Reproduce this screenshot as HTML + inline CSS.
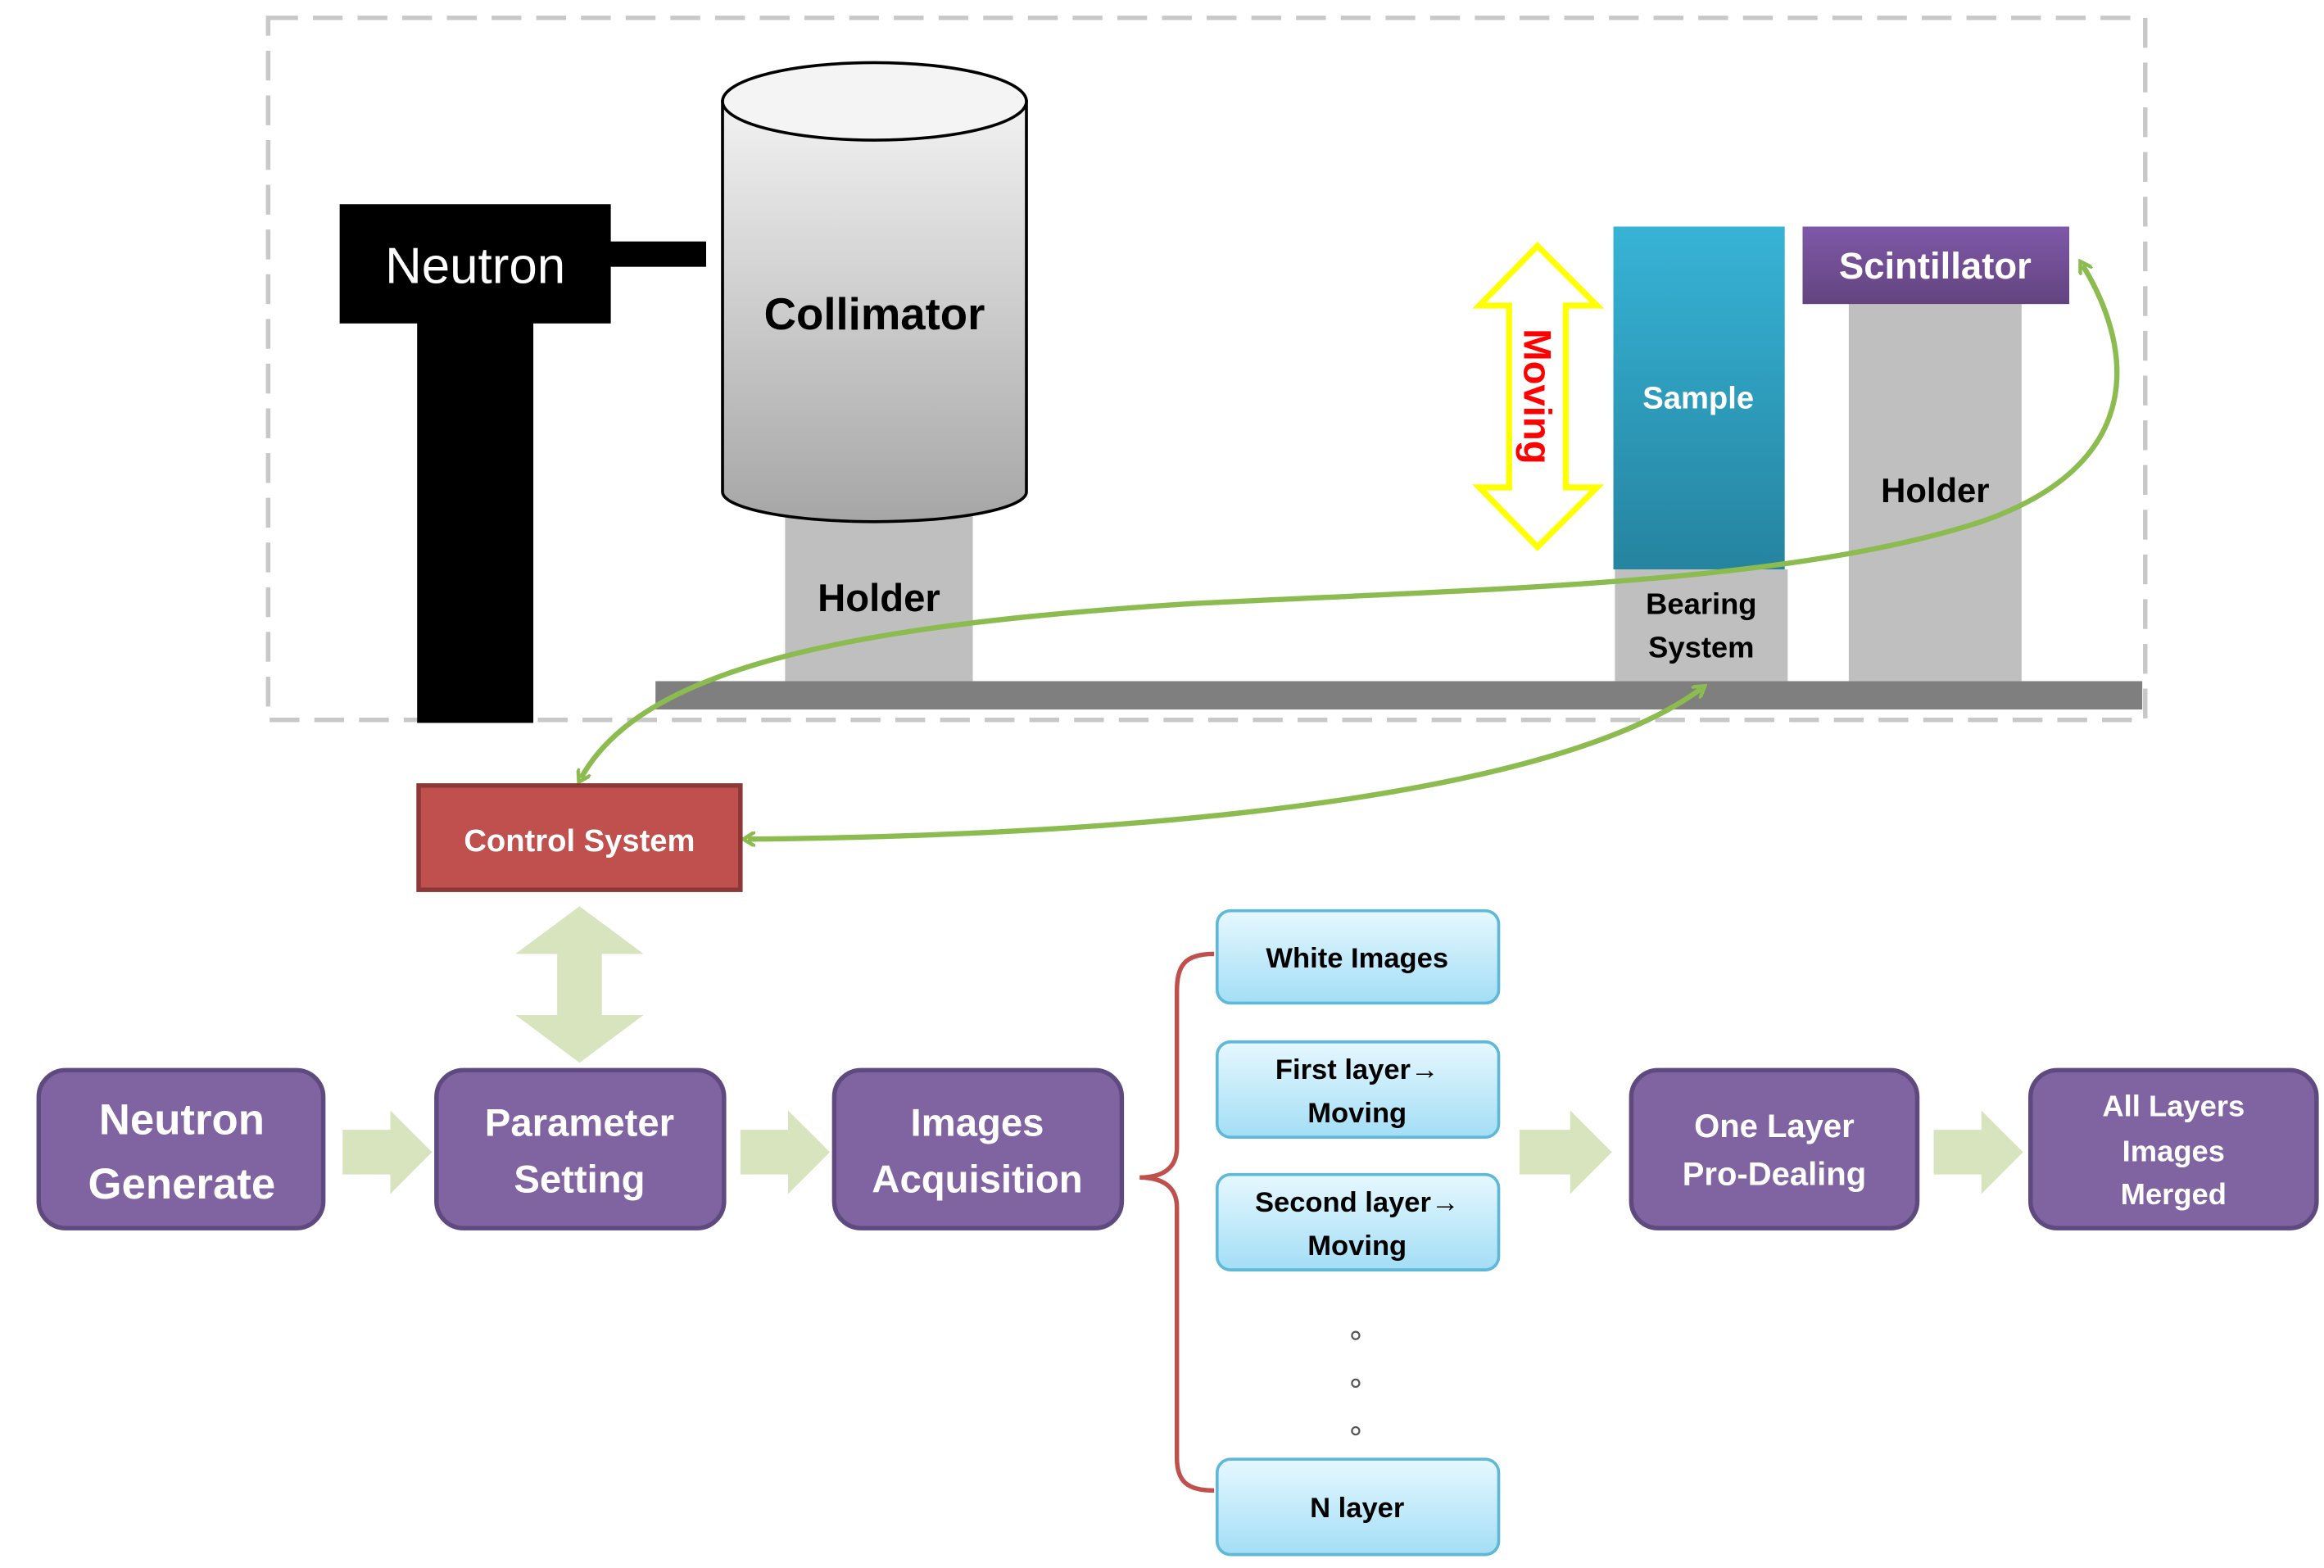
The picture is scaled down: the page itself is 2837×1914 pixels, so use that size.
<!DOCTYPE html>
<html><head><meta charset="utf-8"><style>html,body{margin:0;padding:0;background:#fff}svg{display:block}</style></head>
<body>
<svg width="2837" height="1914" viewBox="0 0 1560 1052" preserveAspectRatio="none" xmlns="http://www.w3.org/2000/svg" font-family="Liberation Sans, sans-serif">
<defs>
<linearGradient id="col" x1="0" y1="0" x2="0" y2="1"><stop offset="0" stop-color="#f2f2f2"/><stop offset="1" stop-color="#a6a6a6"/></linearGradient>
<linearGradient id="smp" x1="0" y1="0" x2="0" y2="1"><stop offset="0" stop-color="#37b3d6"/><stop offset="1" stop-color="#2584a0"/></linearGradient>
<linearGradient id="scn" x1="0" y1="0" x2="0" y2="1"><stop offset="0" stop-color="#7f58a8"/><stop offset="1" stop-color="#63447f"/></linearGradient>
<linearGradient id="lb" x1="0" y1="0" x2="0" y2="1"><stop offset="0" stop-color="#e6f8ff"/><stop offset="1" stop-color="#a3def5"/></linearGradient>
<marker id="ah" markerWidth="10" markerHeight="10" refX="5" refY="5" orient="auto-start-reverse" markerUnits="userSpaceOnUse" viewBox="0 0 10 10"><path d="M0,0 L8,5 L0,10" fill="none" stroke="#8cbc4f" stroke-width="2.5"/></marker>
</defs>
<rect x="180" y="12" width="1260" height="471" fill="none" stroke="#c8c8c8" stroke-width="3" stroke-dasharray="20 10"/>
<rect x="228" y="137" width="182" height="80" fill="#000"/>
<rect x="280" y="215" width="78" height="270" fill="#000"/>
<rect x="408" y="162" width="66" height="17" fill="#000"/>
<text x="319" y="190" fill="#fff" font-size="34" text-anchor="middle">Neutron</text>
<rect x="527" y="340" width="126" height="117" fill="#bfbfbf"/>
<path d="M485,68 L485,330 A102,20 0 0 0 689,330 L689,68 Z" fill="url(#col)" stroke="#000" stroke-width="2"/>
<ellipse cx="587" cy="68" rx="102" ry="26" fill="#f4f4f4" stroke="#000" stroke-width="2"/>
<text x="587" y="221" font-size="30" font-weight="bold" text-anchor="middle">Collimator</text>
<text x="590" y="410" font-size="26" font-weight="bold" text-anchor="middle">Holder</text>
<rect x="440" y="457" width="998" height="19" fill="#7f7f7f"/>
<path d="M1032,165 L1072,205 L1051,205 L1051,327 L1072,327 L1032,367 L993,327 L1013,327 L1013,205 L993,205 Z" fill="#fff" stroke="#ffff00" stroke-width="4"/>
<text x="1032" y="266" fill="#ff0000" font-size="26" font-weight="bold" text-anchor="middle" transform="rotate(90 1032 266)" dy="9">Moving</text>
<rect x="1084" y="382" width="116" height="75" fill="#bfbfbf"/>
<rect x="1083" y="152" width="115" height="230" fill="url(#smp)"/>
<text x="1140" y="274" fill="#fff" font-size="21" font-weight="bold" text-anchor="middle">Sample</text>
<text x="1142" y="412" font-size="20" font-weight="bold" text-anchor="middle">Bearing</text>
<text x="1142" y="441" font-size="20" font-weight="bold" text-anchor="middle">System</text>
<rect x="1241" y="204" width="116" height="253" fill="#bfbfbf"/>
<rect x="1210" y="152" width="179" height="52" fill="url(#scn)"/>
<text x="1299" y="187" fill="#fff" font-size="25" font-weight="bold" text-anchor="middle">Scintillator</text>
<text x="1299" y="337" font-size="23" font-weight="bold" text-anchor="middle">Holder</text>
<path d="M390,522 C430,450 560,420 800,405 C1000,395 1200,392 1330,350 C1445,310 1430,230 1398,178" fill="none" stroke="#8cbc4f" stroke-width="3.5" marker-start="url(#ah)" marker-end="url(#ah)"/>
<path d="M502,563 C800,560 1050,530 1142,462" fill="none" stroke="#8cbc4f" stroke-width="3.5" marker-start="url(#ah)" marker-end="url(#ah)"/>
<rect x="281" y="527" width="216" height="70" fill="#c0504d" stroke="#8c3836" stroke-width="3"/>
<text x="389" y="571" fill="#fff" font-size="21" font-weight="bold" text-anchor="middle">Control System</text>
<path d="M389,608 L432,640 L404,640 L404,681 L432,681 L389,713 L346,681 L374,681 L374,640 L346,640 Z" fill="#d7e4bd"/>
<g fill="#8063a1" stroke="#5f4a80" stroke-width="3">
<rect x="26" y="718" width="191" height="106" rx="18"/>
<rect x="293" y="718" width="193" height="106" rx="18"/>
<rect x="560" y="718" width="193" height="106" rx="18"/>
<rect x="1095" y="718" width="192" height="106" rx="18"/>
<rect x="1363" y="718" width="192" height="106" rx="18"/>
</g>
<g fill="#fff" font-weight="bold" text-anchor="middle">
<text x="122" y="761" font-size="29">Neutron</text><text x="122" y="804" font-size="29">Generate</text>
<text x="389" y="762" font-size="26">Parameter</text><text x="389" y="800" font-size="26">Setting</text>
<text x="656" y="762" font-size="26">Images</text><text x="656" y="800" font-size="26">Acquisition</text>
<text x="1191" y="763" font-size="22">One Layer</text><text x="1191" y="795" font-size="22">Pro-Dealing</text>
<text x="1459" y="749" font-size="20">All Layers</text><text x="1459" y="779" font-size="20">Images</text><text x="1459" y="808" font-size="20">Merged</text>
</g>
<g fill="#d7e4bd">
<path d="M230,758 L262,758 L262,745 L290,773 L262,801 L262,788 L230,788 Z"/>
<path d="M497,758 L529,758 L529,745 L557,773 L529,801 L529,788 L497,788 Z"/>
<path d="M1020,758 L1054,758 L1054,745 L1082,773 L1054,801 L1054,788 L1020,788 Z"/>
<path d="M1298,758 L1330,758 L1330,745 L1358,773 L1330,801 L1330,788 L1298,788 Z"/>
</g>
<path d="M815,640 C795,640 790,648 790,665 L790,770 C790,784 780,790 765,790 C780,790 790,796 790,810 L790,978 C790,994 797,1000 815,1000" fill="none" stroke="#c0504d" stroke-width="3"/>
<g fill="url(#lb)" stroke="#5fb8d8" stroke-width="2">
<rect x="817" y="611" width="189" height="62" rx="9"/>
<rect x="817" y="699" width="189" height="64" rx="9"/>
<rect x="817" y="788" width="189" height="64" rx="9"/>
<rect x="817" y="979" width="189" height="64" rx="9"/>
</g>
<g font-size="19" font-weight="bold" text-anchor="middle">
<text x="911" y="649">White Images</text>
<text x="911" y="724">First layer→</text><text x="911" y="753">Moving</text>
<text x="911" y="813">Second layer→</text><text x="911" y="842">Moving</text>
<text x="911" y="1018">N layer</text>
</g>
<g fill="none" stroke="#555" stroke-width="1.2"><circle cx="910" cy="896" r="2.5"/><circle cx="910" cy="928" r="2.5"/><circle cx="910" cy="960" r="2.5"/></g>
</svg>
</body></html>
